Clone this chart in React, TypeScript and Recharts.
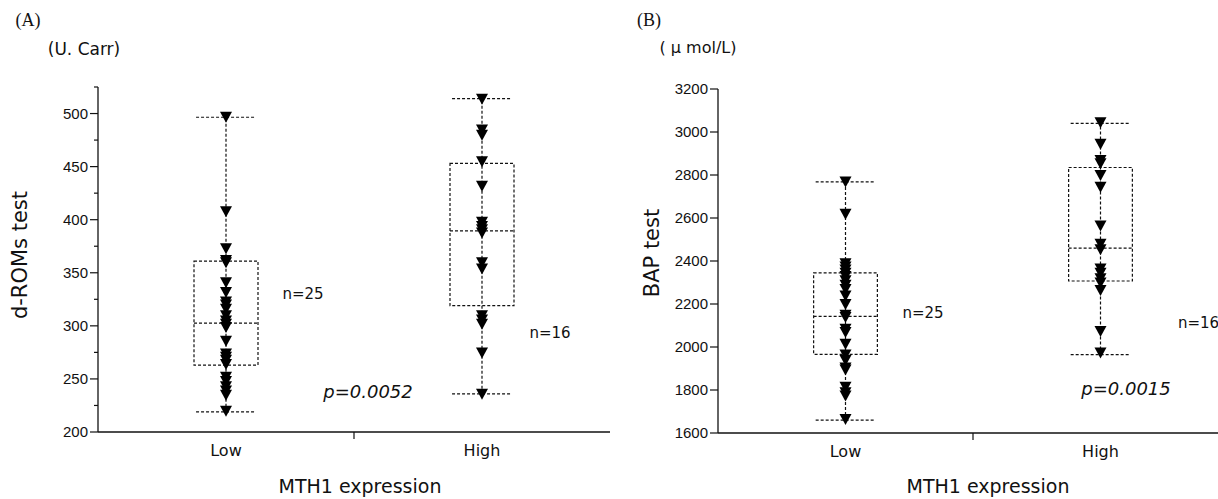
import React from "react";
import {
  ComposedChart,
  Scatter,
  XAxis,
  YAxis,
  ReferenceArea,
  ReferenceLine
} from "recharts";

// MTH1 expression groups
const groups = ["Low", "High"];

// (A) d-ROMs test, U. Carr
const romsLow = [497, 408, 373, 362, 360, 341, 332, 323, 320, 316, 310, 305, 302, 299, 286, 274, 271, 268, 264, 252, 248, 243, 239, 235, 220];
const romsHigh = [514, 485, 480, 455, 432, 398, 394, 391, 388, 360, 354, 310, 306, 302, 275, 236];
const romsMin = [219, 236];
const romsQ1 = [263, 319];
const romsMedian = [302.5, 389.5];
const romsQ3 = [361, 453];
const romsMax = [496.5, 514];
const romsTicks = [200, 225, 250, 275, 300, 325, 350, 375, 400, 425, 450, 475, 500, 525];

// (B) BAP test, umol/L
const bapLow = [2770, 2620, 2390, 2375, 2360, 2345, 2330, 2310, 2290, 2270, 2240, 2200, 2150, 2140, 2085, 2070, 2015, 1965, 1940, 1905, 1895, 1815, 1790, 1775, 1665];
const bapHigh = [3045, 2945, 2870, 2855, 2800, 2745, 2565, 2480, 2455, 2365, 2345, 2320, 2300, 2265, 2075, 1975];
const bapMin = [1660, 1965];
const bapQ1 = [1966, 2307];
const bapMedian = [2142, 2460];
const bapQ3 = [2345, 2835];
const bapMax = [2768, 3040];
const bapTicks = [1600, 1800, 2000, 2200, 2400, 2600, 2800, 3000, 3200];

const DOT = "3 2";
const INK = "#111";
const SANS = "'DejaVu Sans', sans-serif";

const DownTriangle = (props: any) => {
  const { cx, cy } = props;
  if (cx == null || cy == null) return null;
  return (
    <polygon
      points={`${cx - 6},${cy - 5} ${cx + 6},${cy - 5} ${cx},${cy + 6}`}
      fill="#000"
    />
  );
};

const makeYTick = (labelEvery: number) => (props: any) => {
  const { x, y, payload } = props;
  const major = payload.value % labelEvery === 0;
  return (
    <g>
      <line x1={x - (major ? 8 : 4)} x2={x} y1={y} y2={y} stroke={INK} strokeWidth={1.2} />
      {major && (
        <text
          x={x - 10}
          y={y + 5}
          textAnchor="end"
          fontSize={15}
          fontFamily="'Liberation Sans', Arial, sans-serif"
          fill="#111"
        >
          {payload.value}
        </text>
      )}
    </g>
  );
};

const XTick = (props: any) => {
  const { x, y, payload } = props;
  if (payload.value === 1) {
    return <line x1={x} x2={x} y1={y} y2={y + 7} stroke={INK} strokeWidth={1.2} />;
  }
  const idx = Math.floor(payload.value);
  return (
    <text x={x} y={y + 24} textAnchor="middle" fontSize={16} fontFamily={SANS} fill="#111">
      {groups[idx]}
    </text>
  );
};

interface PanelProps {
  low: number[];
  high: number[];
  min: number[];
  q1: number[];
  median: number[];
  q3: number[];
  max: number[];
  ticks: number[];
  labelEvery: number;
  width: number;
  margin: { top: number; right: number; left: number; bottom: number };
  yWidth: number;
}

const Panel: React.FC<PanelProps> = ({ low, high, min, q1, median, q3, max, ticks, labelEvery, width, margin, yWidth }) => {
  const series = [low, high].map((vals, i) => vals.map((v) => ({ x: i + 0.5, y: v })));
  const boxHalf = 0.125;
  const capHalf = 0.117;
  return (
    <ComposedChart width={width} height={499} margin={margin}>
      <XAxis
        type="number"
        dataKey="x"
        domain={[0, 2]}
        ticks={[0.5, 1, 1.5]}
        interval={0}
        tickSize={0}
        tickMargin={0}
        tick={<XTick />}
        axisLine={{ stroke: INK, strokeWidth: 1.3 }}
        height={30}
      />
      <YAxis
        type="number"
        dataKey="y"
        domain={[ticks[0], ticks[ticks.length - 1]]}
        ticks={ticks}
        interval={0}
        tickSize={0}
        tickMargin={0}
        tick={makeYTick(labelEvery)}
        axisLine={{ stroke: INK, strokeWidth: 1.3 }}
        width={yWidth}
      />
      {groups.map((g, i) => {
        const c = i + 0.5;
        return (
          <React.Fragment key={g}>
            <ReferenceLine segment={[{ x: c, y: min[i] }, { x: c, y: max[i] }]} stroke={INK} strokeDasharray={DOT} strokeWidth={1.2} />
            <ReferenceArea x1={c - boxHalf} x2={c + boxHalf} y1={q1[i]} y2={q3[i]} fill="none" stroke={INK} strokeDasharray={DOT} strokeWidth={1.2} />
            <ReferenceLine segment={[{ x: c - boxHalf, y: median[i] }, { x: c + boxHalf, y: median[i] }]} stroke={INK} strokeDasharray={DOT} strokeWidth={1.2} />
            <ReferenceLine segment={[{ x: c - capHalf, y: min[i] }, { x: c + capHalf, y: min[i] }]} stroke={INK} strokeDasharray={DOT} strokeWidth={1.2} />
            <ReferenceLine segment={[{ x: c - capHalf, y: max[i] }, { x: c + capHalf, y: max[i] }]} stroke={INK} strokeDasharray={DOT} strokeWidth={1.2} />
          </React.Fragment>
        );
      })}
      {series.map((pts, i) => (
        <Scatter key={groups[i]} data={pts} dataKey="y" shape={DownTriangle} isAnimationActive={false} />
      ))}
    </ComposedChart>
  );
};

const Txt: React.FC<{ x: number; y: number; size: number; children: React.ReactNode; italic?: boolean; serif?: boolean; rotate?: boolean; anchor?: "center" | "left" }> = ({
  x, y, size, children, italic, serif, rotate, anchor = "center"
}) => (
  <div
    style={{
      position: "absolute",
      left: x,
      top: y,
      transform: `translate(${anchor === "center" ? "-50%" : "0"}, -50%)${rotate ? " rotate(-90deg)" : ""}`,
      fontSize: size,
      fontFamily: serif ? "'Liberation Serif', serif" : SANS,
      fontStyle: italic ? "italic" : "normal",
      whiteSpace: "nowrap",
      lineHeight: 1.1,
      color: "#111"
    }}
  >
    {children}
  </div>
);

export default function App() {
  return (
    <div style={{ position: "absolute", left: 0, top: 0, width: 1218, height: 499, overflow: "hidden", background: "#fff" }}>
      <div style={{ position: "absolute", left: 0, top: 0 }}>
        <Panel
          low={romsLow} high={romsHigh} min={romsMin} q1={romsQ1} median={romsMedian} q3={romsQ3} max={romsMax}
          ticks={romsTicks} labelEvery={50} width={620}
          margin={{ top: 87, right: 10, left: 58, bottom: 37 }} yWidth={40}
        />
      </div>
      <div style={{ position: "absolute", left: 600, top: 0 }}>
        <Panel
          low={bapLow} high={bapHigh} min={bapMin} q1={bapQ1} median={bapMedian} q3={bapQ3} max={bapMax}
          ticks={bapTicks} labelEvery={200} width={638}
          margin={{ top: 89, right: 10, left: 68, bottom: 36 }} yWidth={50}
        />
      </div>

      <Txt x={28} y={21} size={18} serif>(A)</Txt>
      <Txt x={84} y={49} size={17}>(U. Carr)</Txt>
      <Txt x={21} y={255} size={21} rotate>d-ROMs test</Txt>
      <Txt x={303} y={294} size={15}>n=25</Txt>
      <Txt x={550} y={333} size={15}>n=16</Txt>
      <Txt x={368} y={392} size={18} italic>p=0.0052</Txt>
      <Txt x={360} y={486} size={19}>MTH1 expression</Txt>

      <Txt x={649} y={21} size={18} serif>(B)</Txt>
      <Txt x={698} y={48} size={16}>( μ mol/L)</Txt>
      <Txt x={653} y={253} size={21} rotate>BAP test</Txt>
      <Txt x={923} y={313} size={15}>n=25</Txt>
      <Txt x={1178} y={323} size={15} anchor="left">n=16</Txt>
      <Txt x={1126} y={389} size={18} italic>p=0.0015</Txt>
      <Txt x={988} y={486} size={19}>MTH1 expression</Txt>
    </div>
  );
}
